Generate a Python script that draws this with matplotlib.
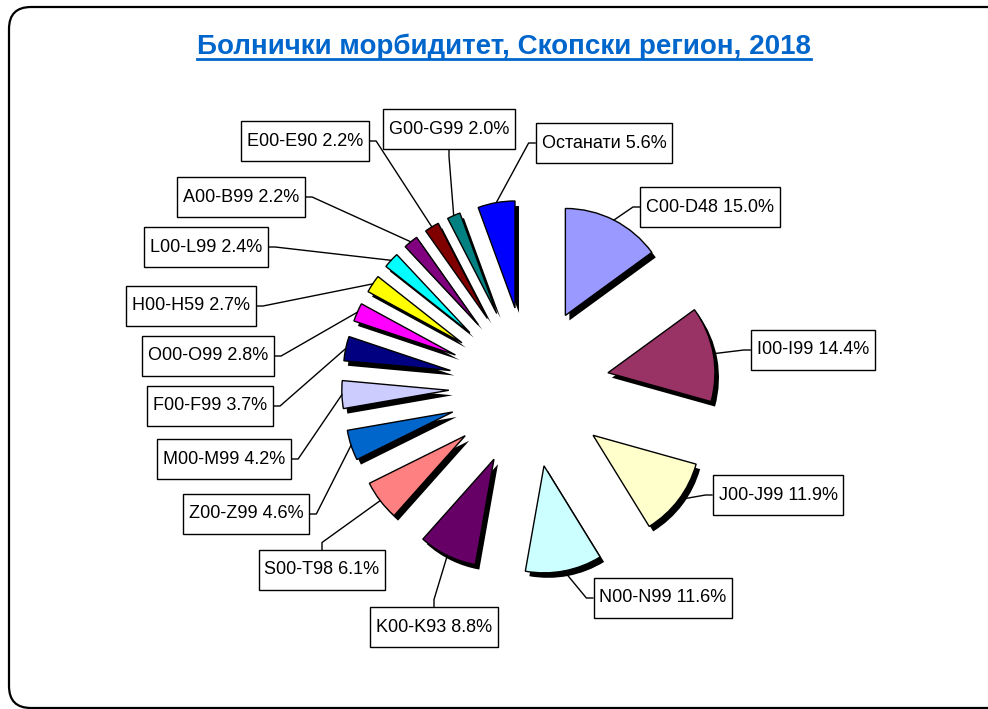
import numpy as np
import matplotlib
matplotlib.use('Agg')
import matplotlib.pyplot as plt
from matplotlib.path import Path
from matplotlib.patches import FancyBboxPatch
from matplotlib.lines import Line2D
from matplotlib.transforms import ScaledTranslation, IdentityTransform

plt.rcParams['font.family'] = ['Liberation Sans', 'DejaVu Sans']

title = 'Болнички морбидитет, Скопски регион, 2018'
codes = ['C00-D48', 'I00-I99', 'J00-J99', 'N00-N99', 'K00-K93', 'S00-T98',
         'Z00-Z99', 'M00-M99', 'F00-F99', 'O00-O99', 'H00-H59', 'L00-L99',
         'A00-B99', 'E00-E90', 'G00-G99', 'Останати']
values = [15.0, 14.4, 11.9, 11.6, 8.8, 6.1, 4.6, 4.2, 3.7, 2.8, 2.7, 2.4,
          2.2, 2.2, 2.0, 5.6]
colors = ['#9999FF', '#993366', '#FFFFCC', '#CCFFFF', '#660066', '#FF8080',
          '#0066CC', '#CCCCFF', '#000080', '#FF00FF', '#FFFF00', '#00FFFF',
          '#800080', '#800000', '#008080', '#0000FF']

# label box centres (pixels from top-left) and side the leader attaches to
label_pos = [(710, 207), (813, 350), (778, 495), (663, 598), (434, 627),
             (322, 570), (246, 514), (224, 459), (210, 406), (208, 356),
             (191, 306), (206, 247), (241, 197), (305, 141), (449, 129),
             (604, 143)]
label_side = ['L', 'L', 'L', 'L', 'T', 'T', 'R', 'R', 'R', 'R', 'R', 'R',
              'R', 'R', 'B', 'L']

W, H = 988, 709
cx, cy, rpx = 529, 387, 107   # pie centre and radius in pixels
explode = 0.75

fig = plt.figure(figsize=(W / 100, H / 100), dpi=100)
ax = fig.add_axes([0, 0, 1, 1])

# shadow
shadow, _ = ax.pie(values, colors=['black'] * len(values), startangle=90,
                   counterclock=False, explode=[explode] * len(values),
                   wedgeprops=dict(linewidth=0))
off = ScaledTranslation(0.04, -0.05, fig.dpi_scale_trans)
for w in shadow:
    w.set_transform(ax.transData + off)
    w.set_zorder(1)

wedges, _ = ax.pie(values, colors=colors, startangle=90, counterclock=False,
                   explode=[explode] * len(values),
                   wedgeprops=dict(edgecolor='black', linewidth=1.0))
for w in wedges:
    w.set_zorder(2)

ax.set_xlim(-cx / rpx, (W - cx) / rpx)
ax.set_ylim(-(H - cy) / rpx, cy / rpx)
ax.set_aspect('equal')
ax.axis('off')


def label_box(x0, y0, width, height, mutation_size):
    px = 0.32 * mutation_size
    py = 0.62 * mutation_size
    x0, y0 = x0 - px, y0 - py
    x1, y1 = x0 + width + 2 * px, y0 + height + 2 * py
    return Path([(x0, y0), (x1, y0), (x1, y1), (x0, y1), (x0, y0)], closed=True)


side_cfg = {'L': ((0, 0.5), 180, 13), 'R': ((1, 0.5), 0, 13),
            'T': ((0.5, 1), 90, 19), 'B': ((0.5, 0), -90, 19)}

total = sum(values)
cum = np.cumsum([0] + values[:-1])
for code, v, c0, pos, side in zip(codes, values, cum, label_pos, label_side):
    mid = np.deg2rad(90 - 360 * (c0 + v / 2) / total)
    xy = ((1 + explode) * np.cos(mid), (1 + explode) * np.sin(mid))
    relpos, ang, arm = side_cfg[side]
    ax.annotate(f'{code} {v:.1f}%', xy=xy,
                xytext=(pos[0] / W, 1 - pos[1] / H), textcoords='figure fraction',
                ha='center', va='center', fontsize=13, zorder=3,
                bbox=dict(boxstyle=label_box, fc='white', ec='black', lw=1.0),
                arrowprops=dict(arrowstyle='-', color='black', lw=1.0,
                                relpos=relpos, shrinkA=0, shrinkB=0,
                                connectionstyle=f'arc,angleA={ang},armA={arm},angleB=0,armB=0,rad=0'))

t = fig.text(504 / W, 1 - 47 / H, title, ha='center', va='center',
             fontsize=20, fontweight='bold', color='#0066CC')

fig.canvas.draw()
bb = t.get_window_extent()
fig.add_artist(Line2D([bb.x0, bb.x1], [bb.y0 + 1, bb.y0 + 1], color='#0066CC',
                      lw=2.0, transform=IdentityTransform()))

frame = FancyBboxPatch((9, 1), 1005, 701, boxstyle='round,pad=0,rounding_size=22',
                       fill=False, ec='black', lw=1.6, transform=IdentityTransform())
fig.add_artist(frame)

fig.savefig('out.png', dpi=100)
